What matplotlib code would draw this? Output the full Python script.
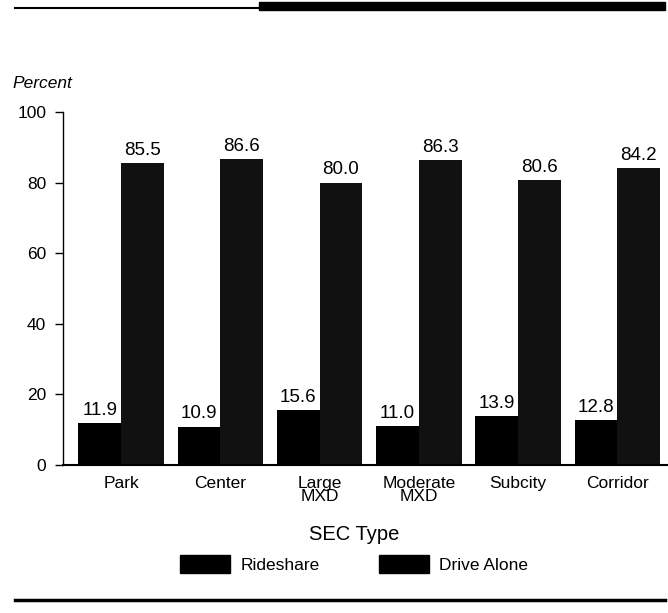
import matplotlib.pyplot as plt
import numpy as np
from matplotlib.patches import Rectangle
from matplotlib.lines import Line2D

plt.rcParams['font.family'] = ['Liberation Sans', 'DejaVu Sans']

# Mode share by SEC type
categories = ['Park', 'Center', 'Large\nMXD', 'Moderate\nMXD', 'Subcity', 'Corridor']
rideshare = [11.9, 10.9, 15.6, 11.0, 13.9, 12.8]
drive_alone = [85.5, 86.6, 80.0, 86.3, 80.6, 84.2]
yticks = [0, 20, 40, 60, 80, 100]

W, H = 668, 613
fig = plt.figure(figsize=(W / 100, H / 100), dpi=100)
ax = fig.add_axes([63 / W, 148 / H, 604 / W, 353 / H])

x = np.arange(len(categories))
bw = 0.43
ax.bar(x - bw / 2, rideshare, bw, color='black', label='Rideshare')
ax.bar(x + bw / 2, drive_alone, bw, color='#111111', label='Drive Alone')

for xi, v in zip(x, rideshare):
    ax.annotate('{:.1f}'.format(v), (xi - bw / 2, v), xytext=(0, 3),
                textcoords='offset points', ha='center', va='bottom', fontsize=13.5)
for xi, v in zip(x, drive_alone):
    ax.annotate('{:.1f}'.format(v), (xi + bw / 2, v), xytext=(0, 3),
                textcoords='offset points', ha='center', va='bottom', fontsize=13.5)

ax.set_xlim(-0.585, 5.5)
ax.set_ylim(0, 100)
ax.set_yticks(yticks)
ax.tick_params(axis='y', direction='out', length=6, width=1, labelsize=12.5, pad=6)
ax.set_xticks(x)
ax.set_xticklabels(categories, fontsize=12.5, linespacing=0.85)
ax.tick_params(axis='x', length=0, pad=8)
for s in ['top', 'right']:
    ax.spines[s].set_visible(False)
ax.spines['left'].set_linewidth(1)
ax.spines['bottom'].set_linewidth(1.5)

fig.text(12 / W, 1 - 84 / H, 'Percent', style='italic', fontsize=12.5,
         va='center', ha='left')
fig.text(354 / W, 1 - 534 / H, 'SEC Type', fontsize=14.5, ha='center', va='center')

fig.legend(handles=[Rectangle((0, 0), 1, 1, color='black'),
                    Rectangle((0, 0), 1, 1, color='black')],
           labels=['Rideshare', 'Drive Alone'], ncol=2, frameon=False,
           loc='center', bbox_to_anchor=(354 / W, 1 - 564 / H), fontsize=12.5,
           handlelength=2.9, handleheight=1.3, handletextpad=0.6, columnspacing=3.4)

# Rules above and below the chart
fig.add_artist(Line2D([15 / W, 259 / W], [1 - 8 / H] * 2, color='black', lw=1.5))
fig.add_artist(Rectangle((259 / W, 1 - 10 / H), 406 / W, 8 / H, color='black',
                         transform=fig.transFigure))
fig.add_artist(Line2D([15 / W, 665 / W], [1 - 600 / H] * 2, color='black', lw=2.5))

fig.savefig('out.png', dpi=100)
